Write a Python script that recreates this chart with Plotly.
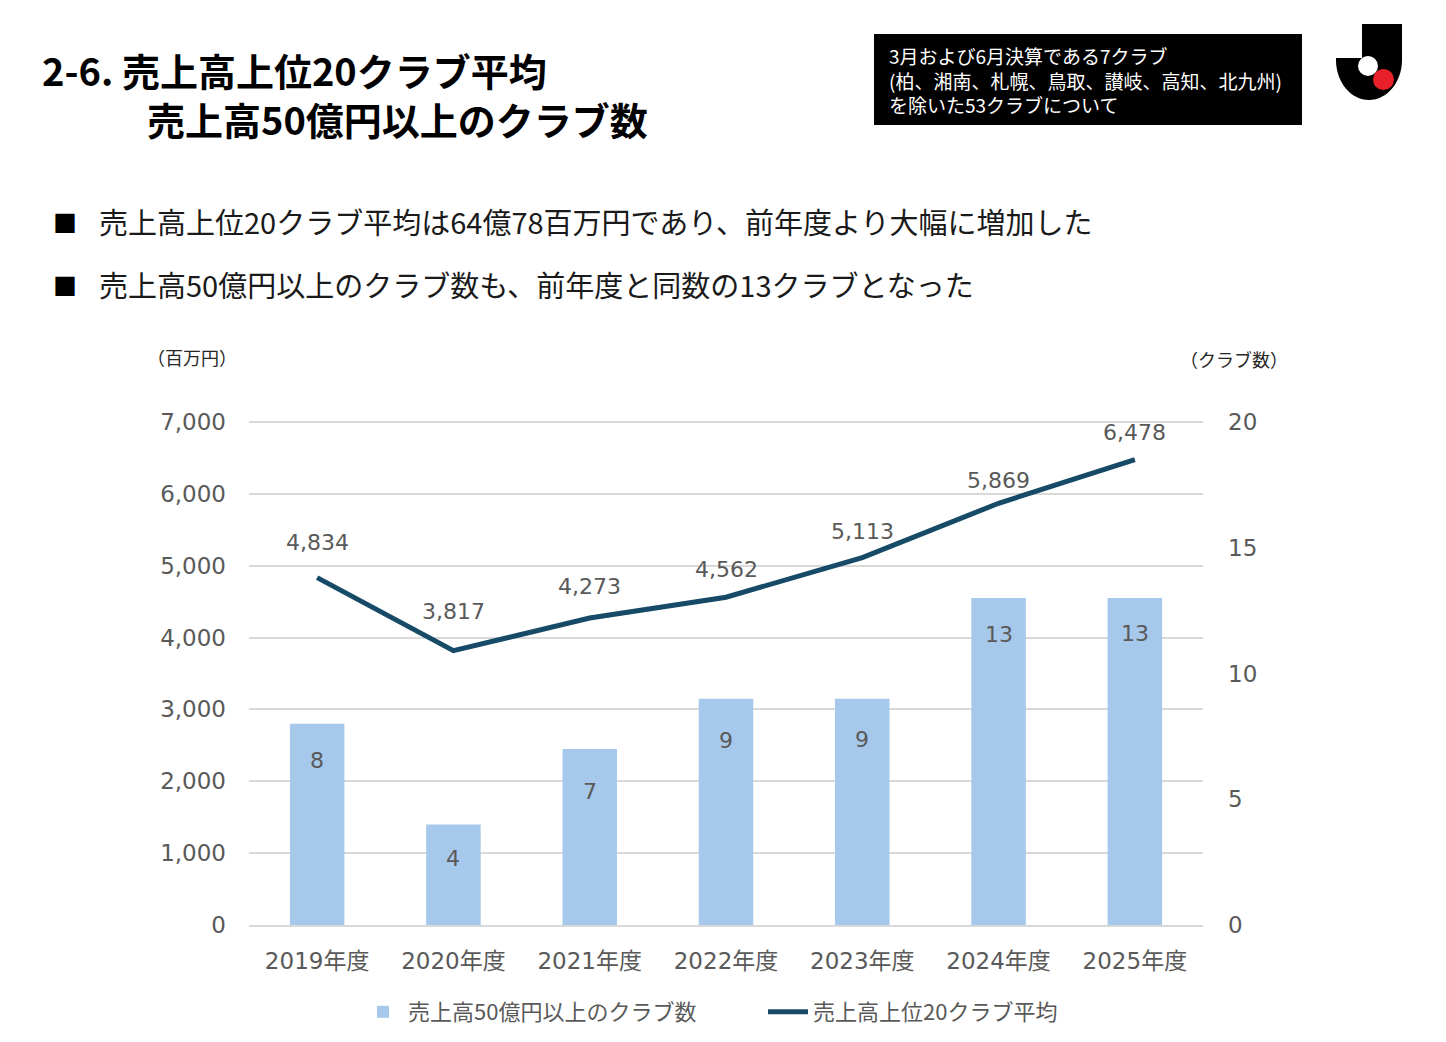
import plotly.graph_objects as go

W, H = 1446, 1042
OFF = 8  # page body margin offset in the screenshot

categories = ["2019年度", "2020年度", "2021年度", "2022年度", "2023年度", "2024年度", "2025年度"]
club_counts = [8, 4, 7, 9, 9, 13, 13]
top20_avg = [4834, 3817, 4273, 4562, 5113, 5869, 6478]
left_ticks = [0, 1000, 2000, 3000, 4000, 5000, 6000, 7000]
right_ticks = [0, 5, 10, 15, 20]
left_max, right_max = 7000, 20

bar_name = "売上高50億円以上のクラブ数"
line_name = "売上高上位20クラブ平均"

# label placement offsets (pixels)
line_label_shift = [35, 39, 31, 28, 26, 23, 27]
bar_label_shift = [-37, -34, -43, -42, -41, -36, -35]

BAR_C = "#a6c8eb"
LINE_C = "#164a66"
GRAY = "#595959"
NUM_FONT = "DejaVu Sans, Noto Sans CJK JP"
JP_FONT = "Noto Sans CJK JP"

# plot area in screenshot pixels; top gridline sits at TOPGRID, plot frame slightly above
PL, PR, PT, PB = 249, 1203, 418, 925
TOPGRID = 422
scale = (PB - PT) / (PB - TOPGRID)


def px(x):
    return (x - PL) / (PR - PL)


def py(y):
    return (PB - y) / (PB - PT)


fig = go.Figure()
fig.add_trace(go.Bar(
    x=categories, y=club_counts, name=bar_name, yaxis="y2",
    marker=dict(color=BAR_C, line=dict(width=0)), width=0.4,
))
fig.add_trace(go.Scatter(
    x=categories, y=top20_avg, name=line_name, yaxis="y", mode="lines",
    line=dict(color=LINE_C, width=5),
))

annotations = []
for c, v, s in zip(categories, top20_avg, line_label_shift):
    annotations.append(dict(
        x=c, y=v, xref="x", yref="y", text=f"{v:,}", showarrow=False,
        yshift=s, font=dict(family=NUM_FONT, size=22, color=GRAY),
    ))
for c, v, s in zip(categories, club_counts, bar_label_shift):
    annotations.append(dict(
        x=c, y=v, xref="x", yref="y2", text=str(v), showarrow=False,
        yshift=s, font=dict(family=NUM_FONT, size=22, color=GRAY),
    ))


def txt(x, y, text, size, color, anchor="left", bold=False, family=JP_FONT, align="left"):
    return dict(x=px(x), y=py(y), xref="paper", yref="paper", xanchor=anchor, yanchor="middle",
                align=align, text=f"<b>{text}</b>" if bold else text, showarrow=False,
                font=dict(family=family, size=size, color=color))


annotations += [
    txt(40, 69, "2-6. 売上高上位20クラブ平均", 38, "#000000", bold=True),
    txt(145, 118, "売上高50億円以上のクラブ数", 38, "#000000", bold=True),
    txt(887, 80, "3月および6月決算である7クラブ<br>(柏、湘南、札幌、鳥取、讃岐、高知、北九州)<br>を除いた53クラブについて",
        19, "#ffffff"),
    txt(65, 221, "■", 24, "#000000", anchor="center"),
    txt(97, 221, "売上高上位20クラブ平均は64億78百万円であり、前年度より大幅に増加した", 29, "#1a1a1a"),
    txt(65, 284, "■", 24, "#000000", anchor="center"),
    txt(97, 284, "売上高50億円以上のクラブ数も、前年度と同数の13クラブとなった", 29, "#1a1a1a"),
    txt(145, 357, "（百万円）", 18, "#262626"),
    txt(1290, 359, "（クラブ数）", 18, "#262626", anchor="right"),
]

# J logo path
k = 0.5523
cx, cy, rx, ry = 1369, 60, 33, 40
pts = [
    ("M", [(1362, 24)]),
    ("L", [(1402, 24)]),
    ("L", [(1402, cy)]),
    ("C", [(1402, cy + ry * k), (cx + rx * k, cy + ry), (cx, cy + ry)]),
    ("C", [(cx - rx * k, cy + ry), (1336, cy + ry * k), (1336, cy)]),
    ("L", [(1336, 58)]),
    ("L", [(1362, 58)]),
]
path = ""
for cmd, ps in pts:
    path += cmd + " " + " ".join(f"{px(a):.5f},{py(b):.5f}" for a, b in ps) + " "
path += "Z"

shapes = [
    dict(type="rect", xref="paper", yref="paper", x0=px(874), x1=px(1302), y0=py(125), y1=py(34),
         fillcolor="#000000", line=dict(width=0), layer="below"),
    dict(type="path", xref="paper", yref="paper", path=path, fillcolor="#000000", line=dict(width=0)),
    dict(type="circle", xref="paper", yref="paper", x0=px(1358), x1=px(1378), y0=py(76), y1=py(56),
         fillcolor="#ffffff", line=dict(width=0)),
    dict(type="circle", xref="paper", yref="paper", x0=px(1373), x1=px(1394), y0=py(90), y1=py(69),
         fillcolor="#e8202a", line=dict(width=0)),
]

fig.update_layout(
    width=W, height=H,
    margin=dict(l=PL - OFF, r=W - (PR - OFF), t=PT - OFF, b=H - (PB - OFF), pad=0),
    paper_bgcolor="#ffffff", plot_bgcolor="#ffffff",
    showlegend=True,
    legend=dict(orientation="h", x=(358 - OFF) / W, xanchor="left",
                y=1 - (1012 - OFF) / H, yanchor="middle",
                xref="container", yref="container",
                entrywidth=350, entrywidthmode="pixels",
                font=dict(family=JP_FONT, size=22, color=GRAY), itemwidth=40,
                traceorder="normal"),
    xaxis=dict(
        type="category", categoryorder="array", categoryarray=categories,
        showgrid=False, showline=True, linecolor="#d9d9d9", linewidth=2,
        ticks="", ticklabelstandoff=14,
        tickfont=dict(family=NUM_FONT, size=23, color=GRAY),
        range=[-0.5, 6.5], fixedrange=True,
    ),
    yaxis=dict(
        range=[0, left_max * scale], tickvals=left_ticks, tickformat=",",
        showgrid=True, gridcolor="#d9d9d9", gridwidth=2,
        zeroline=False, showline=False, ticks="", ticklabelstandoff=22,
        tickfont=dict(family=NUM_FONT, size=23, color=GRAY),
    ),
    yaxis2=dict(
        range=[0, right_max * scale], tickvals=right_ticks, overlaying="y", side="right",
        showgrid=False, zeroline=False, showline=False, ticks="", ticklabelstandoff=24,
        tickfont=dict(family=NUM_FONT, size=23, color=GRAY),
    ),
    annotations=annotations,
    shapes=shapes,
)

fig.write_html("out.html")
